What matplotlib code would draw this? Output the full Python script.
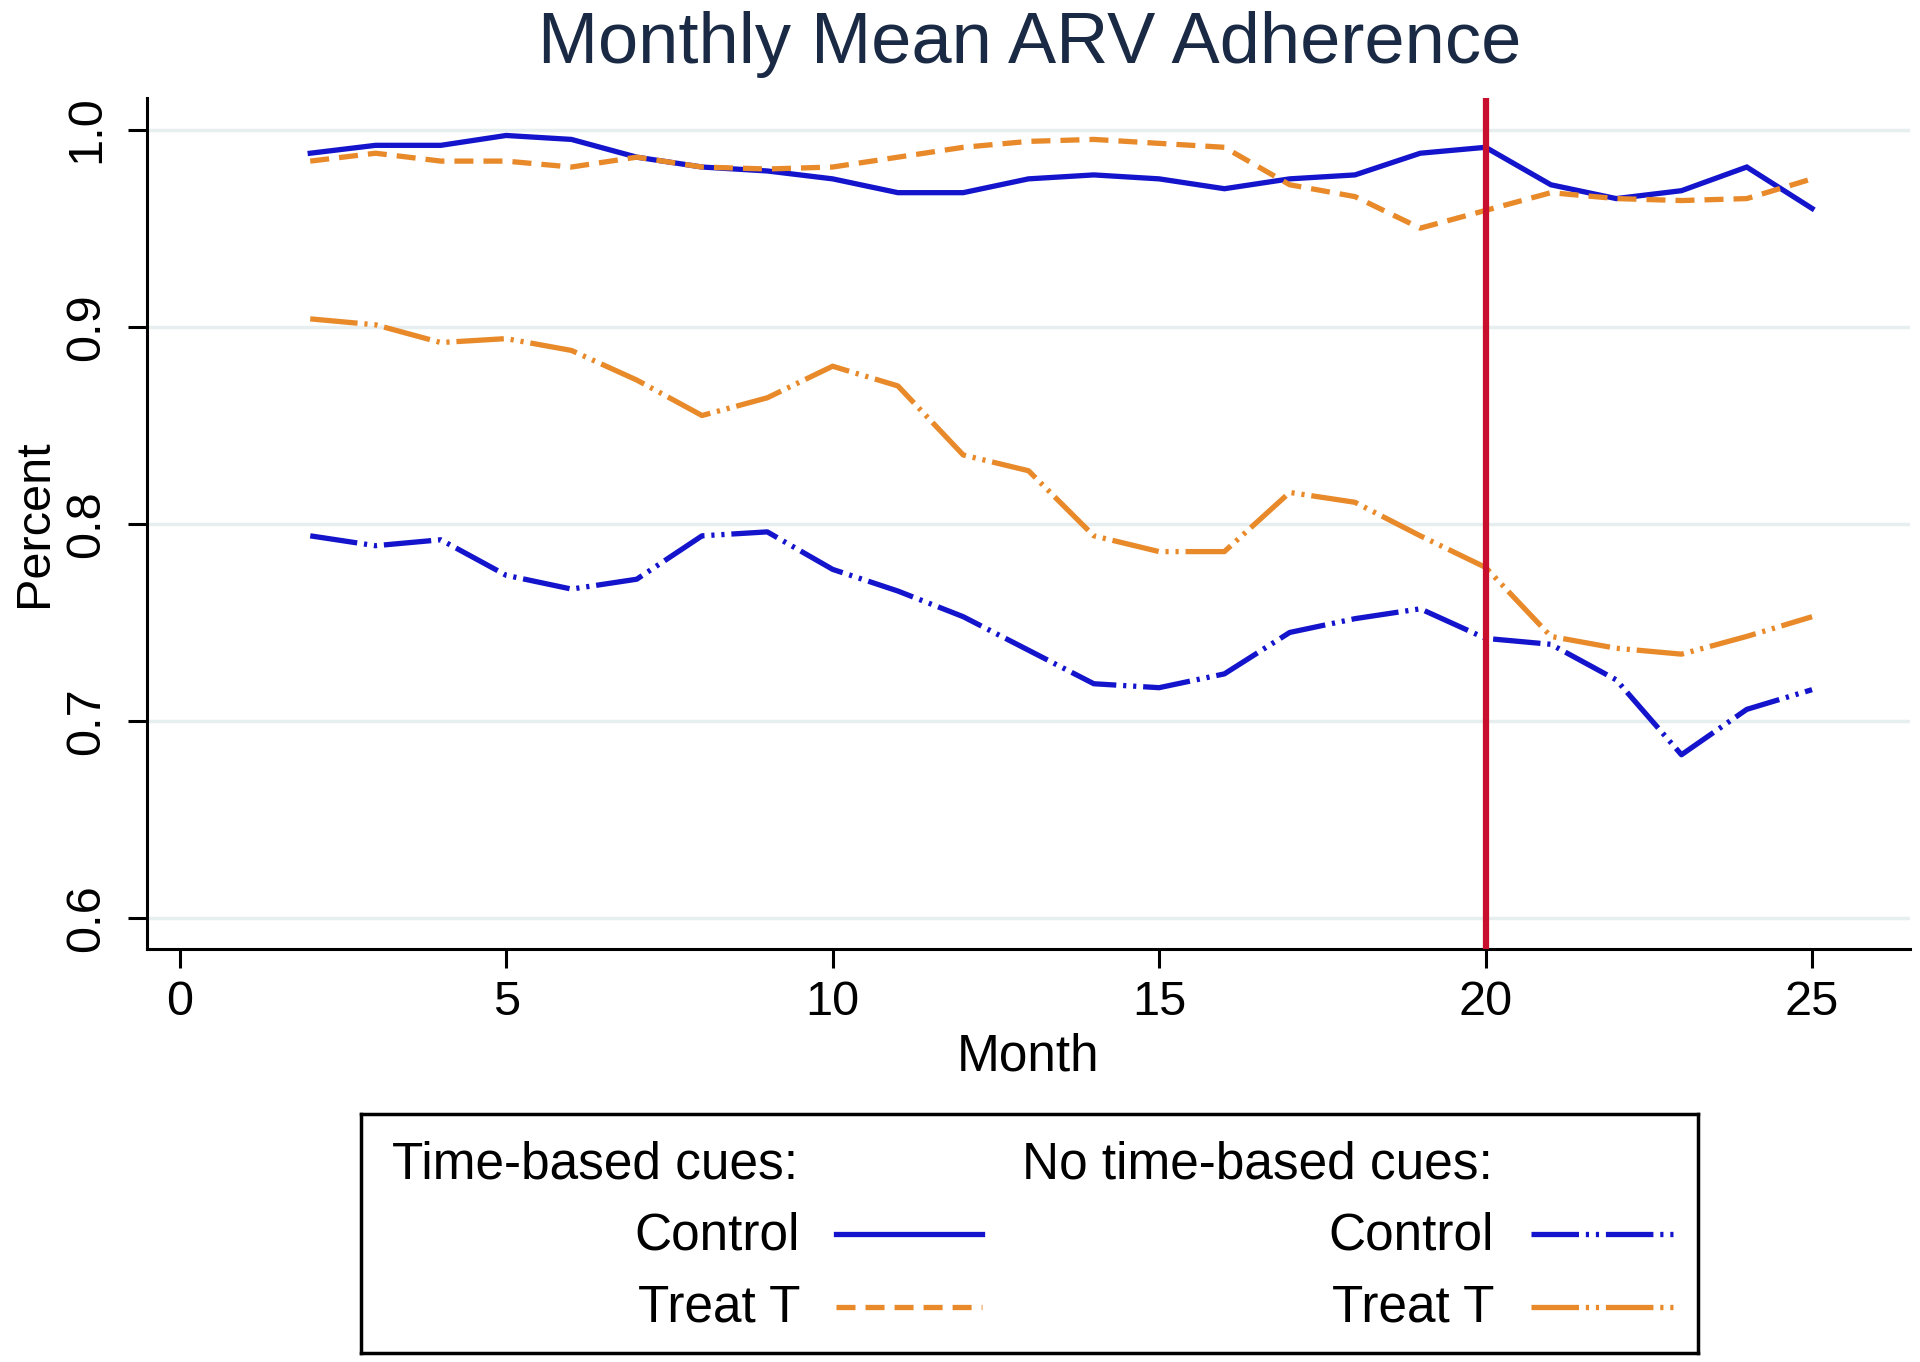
import matplotlib
matplotlib.use("Agg")
import matplotlib.pyplot as plt
from matplotlib.lines import Line2D
import numpy as np

plt.rcParams['font.family'] = ['Liberation Sans', 'DejaVu Sans']

# data
months = list(range(2, 26))
tb_control = [0.988, 0.992, 0.992, 0.997, 0.995, 0.986, 0.981, 0.979, 0.975, 0.968, 0.968, 0.975,
              0.977, 0.975, 0.970, 0.975, 0.977, 0.988, 0.991, 0.972, 0.965, 0.969, 0.981, 0.960]
tb_treat = [0.984, 0.988, 0.984, 0.984, 0.981, 0.986, 0.981, 0.980, 0.981, 0.986, 0.991, 0.994,
            0.995, 0.993, 0.991, 0.972, 0.966, 0.950, 0.959, 0.968, 0.965, 0.964, 0.965, 0.975]
nt_control = [0.794, 0.789, 0.792, 0.774, 0.767, 0.772, 0.794, 0.796, 0.777, 0.766, 0.753, 0.736,
              0.719, 0.717, 0.724, 0.745, 0.752, 0.757, 0.742, 0.739, 0.721, 0.683, 0.706, 0.716]
nt_treat = [0.904, 0.901, 0.892, 0.894, 0.888, 0.873, 0.855, 0.864, 0.880, 0.870, 0.835, 0.827,
            0.794, 0.786, 0.786, 0.816, 0.811, 0.794, 0.778, 0.743, 0.737, 0.734, 0.743, 0.753]
cutoff_month = 20
xticks = [0, 5, 10, 15, 20, 25]
yticks = [0.6, 0.7, 0.8, 0.9, 1.0]

blue = '#1414cc'
orange = '#e8892a'
red = '#c8102e'
lw = 3.8
dashed = (0, (3.6, 1.9))
dashdotdot = (0, (9, 1.3, 0.6, 1.3, 0.6, 1.3))

fig = plt.figure(figsize=(19.2, 13.62), dpi=100)
ax = fig.add_axes([147 / 1920, 1 - 949 / 1362, (1910 - 147) / 1920, (949 - 98) / 1362])

ax.plot(months, tb_control, color=blue, lw=lw, solid_joinstyle='miter')
ax.plot(months, tb_treat, color=orange, lw=lw, linestyle=dashed)
ax.plot(months, nt_control, color=blue, lw=lw, linestyle=dashdotdot)
ax.plot(months, nt_treat, color=orange, lw=lw, linestyle=dashdotdot)
ax.axvline(cutoff_month, color=red, lw=4.5, zorder=5)

ax.set_xlim(-0.5, 26.5)
ax.set_ylim(0.5845, 1.016)
ax.set_xticks(xticks)
ax.set_yticks(yticks)
ax.set_yticklabels(['0.6', '0.7', '0.8', '0.9', '1.0'], rotation=90, va='center')
ax.tick_params(axis='both', labelsize=35, length=14, width=2.2)
ax.tick_params(axis='x', pad=8)
ax.tick_params(axis='y', pad=13)
ax.grid(axis='y', color='#e6eeef', lw=2.5)
ax.set_axisbelow(True)
for s in ['top', 'right']:
    ax.spines[s].set_visible(False)
for s in ['left', 'bottom']:
    ax.spines[s].set_linewidth(2.2)

ax.set_xlabel('Month', fontsize=37, labelpad=6)
ax.set_ylabel('Percent', fontsize=35)
ax.yaxis.set_label_coords(-0.051, 0.5)
fig.text(1030 / 1920, 1 - 45 / 1362, 'Monthly Mean ARV Adherence', ha='center', va='center',
         fontsize=52, color='#1a2a44')

# legend box
lg = fig.add_axes([361 / 1920, 1 - 1353 / 1362, (1698 - 361) / 1920, (1353 - 1114) / 1362])
lg.set_xlim(361, 1698)
lg.set_ylim(1353, 1114)
lg.set_xticks([])
lg.set_yticks([])
for s in lg.spines.values():
    s.set_linewidth(2.5)

fs = 37
lg.text(392, 1165, 'Time-based cues:', fontsize=fs, va='center', ha='left')
lg.text(1022, 1165, 'No time-based cues:', fontsize=fs, va='center', ha='left')
lg.text(800, 1236, 'Control', fontsize=fs, va='center', ha='right')
lg.text(800, 1308, 'Treat T', fontsize=fs, va='center', ha='right')
lg.text(1494, 1236, 'Control', fontsize=fs, va='center', ha='right')
lg.text(1494, 1308, 'Treat T', fontsize=fs, va='center', ha='right')
lg.add_line(Line2D([836, 982], [1234, 1234], color=blue, lw=lw))
lg.add_line(Line2D([836, 982], [1307, 1307], color=orange, lw=lw, linestyle=dashed))
lg.add_line(Line2D([1531, 1677], [1234, 1234], color=blue, lw=lw, linestyle=dashdotdot))
lg.add_line(Line2D([1531, 1677], [1307, 1307], color=orange, lw=lw, linestyle=dashdotdot))

fig.savefig('out.png', dpi=100)
